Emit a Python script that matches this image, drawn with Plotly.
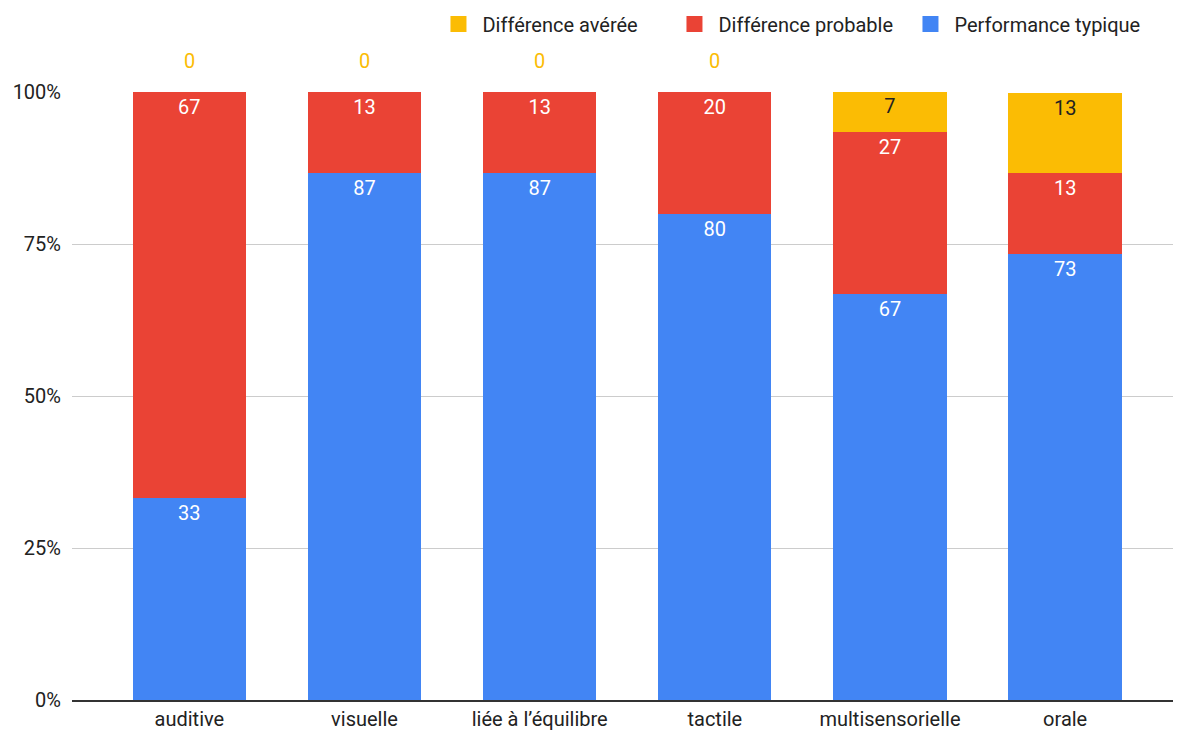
import plotly.graph_objects as go

categories = ["auditive", "visuelle", "liée à l’équilibre", "tactile", "multisensorielle", "orale"]
performance_typique = [33.3, 86.7, 86.7, 80.0, 66.7, 73.3]
difference_probable = [66.7, 13.3, 13.3, 20.0, 26.7, 13.3]
difference_averee = [0.0, 0.0, 0.0, 0.0, 6.7, 13.3]
y_ticks = [0, 25, 50, 75, 100]
y_tick_labels = ["0%", "25%", "50%", "75%", "100%"]

BLUE = "#4285F4"
RED = "#EA4335"
YELLOW = "#FBBC04"
FONT = "Roboto"
FS = 20

def labels(vals):
    return [f"{v:.0f}" if v > 0 else "" for v in vals]

fig = go.Figure()
series = [
    ("Performance typique", performance_typique, BLUE, "white"),
    ("Différence probable", difference_probable, RED, "white"),
    ("Différence avérée", difference_averee, YELLOW, "#222222"),
]
for name, vals, color, tcolor in series:
    fig.add_trace(go.Bar(
        x=categories, y=vals, name=name, legendgroup=name, showlegend=False,
        marker=dict(color=color, line=dict(width=0)),
        text=labels(vals), textposition="inside", insidetextanchor="end",
        textangle=0, constraintext="none",
        textfont=dict(family=FONT, size=FS, color=tcolor),
        width=0.647,
    ))
# legend entries with larger square swatches
for name, vals, color, tcolor in series:
    fig.add_trace(go.Scatter(
        x=[None], y=[None], mode="markers", name=name, legendgroup=name,
        marker=dict(symbol="square", size=16, color=color),
        showlegend=True,
    ))

# zero-value labels above the bars
for i, (cat, v) in enumerate(zip(categories, difference_averee)):
    if v == 0:
        fig.add_annotation(x=cat, y=100, yshift=31, text=f"{v:.0f}", showarrow=False,
                           font=dict(family=FONT, size=FS, color=YELLOW))

# page body has an 8px margin: figure sized/offset to compensate
fig.update_layout(
    barmode="stack",
    width=1173, height=725,
    margin=dict(l=64, r=2, t=84, b=33, autoexpand=False),
    plot_bgcolor="white", paper_bgcolor="white",
    font=dict(family=FONT, size=FS, color="#222222"),
    legend=dict(orientation="h", x=0.967, xanchor="right", y=1.112, yanchor="middle",
                traceorder="reversed",
                font=dict(family=FONT, size=FS, color="#222222"),
                itemwidth=38, entrywidth=183, entrywidthmode="pixels"),
    xaxis=dict(range=[-0.67, 5.65], showgrid=False, showline=True, linecolor="#333333",
               linewidth=1.5, ticks="", tickfont=dict(family=FONT, size=FS, color="#222222")),
    yaxis=dict(range=[0, 100], tickvals=y_ticks, ticktext=y_tick_labels,
               showgrid=True, gridcolor="#cccccc", gridwidth=1, zeroline=False,
               ticks="", ticklabelstandoff=10,
               tickfont=dict(family=FONT, size=FS, color="#222222")),
)
fig.write_html("out.html")
